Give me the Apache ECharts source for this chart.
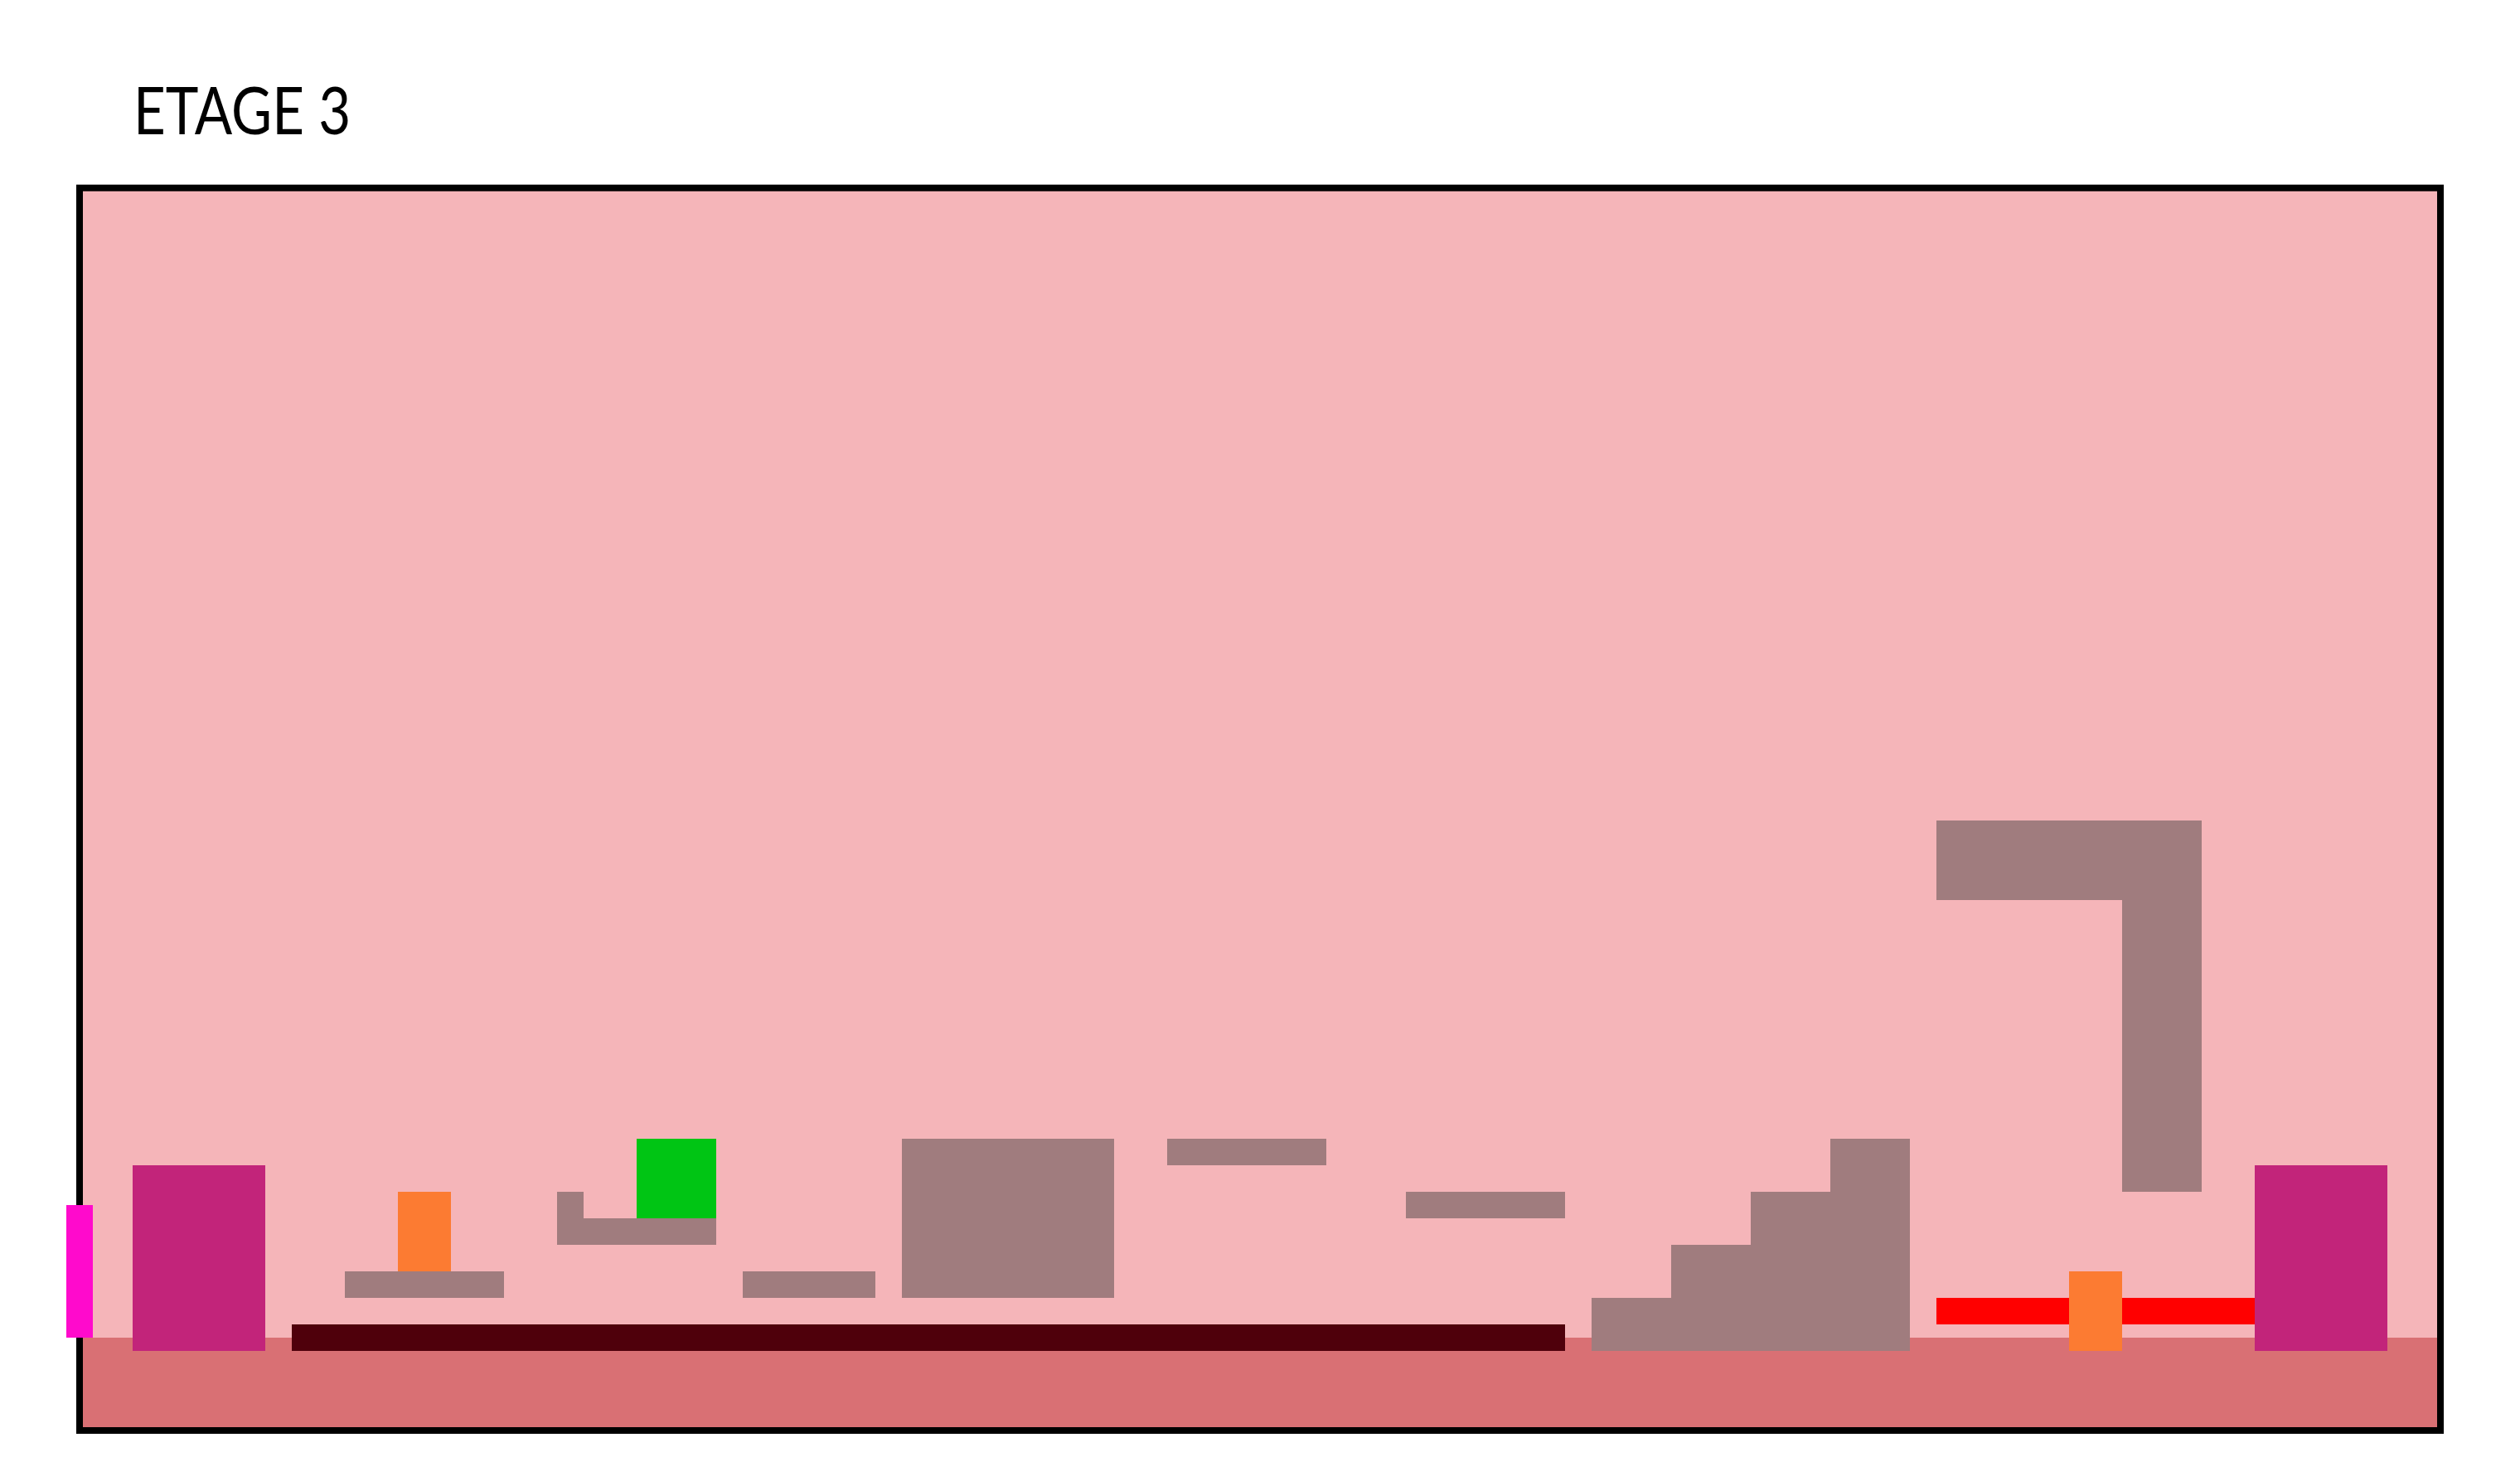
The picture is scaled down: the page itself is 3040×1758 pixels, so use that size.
<!DOCTYPE html>
<html>
<head>
<meta charset="utf-8">
<title>ETAGE 3</title>
<script src="https://cdn.jsdelivr.net/npm/echarts@6/dist/echarts.min.js"></script>
<style>
  html, body { margin: 0; padding: 0; background: #ffffff; }
  #chart { width: 3040px; height: 1758px; }
</style>
</head>
<body>
<div id="chart"></div>
<script>
// level data, in tiles: [x0, y0, x1, y1]
const levelTitle = "ETAGE 3";
const room = [[0, -3, 89, 43.85]];
const ground = [[0, -3, 89, 0.5]];
const walls = [
    [10, 2, 16, 3], [18, 4, 24, 5], [18, 5, 19, 6], [25, 2, 30, 3],
    [31, 2, 39, 8], [41, 7, 47, 8], [50, 5, 56, 6],
    [57, 0, 60, 2], [60, 0, 63, 4], [63, 0, 66, 6], [66, 0, 69, 8],
    [70, 17, 80, 20], [77, 6, 80, 17]
];
const exits = [[2, 0, 7, 7], [82, 0, 87, 7]];
const door = [[-0.5, 0.5, 0.5, 5.5]];
const boxes = [[12, 3, 14, 6], [75, 0, 77, 3]];
const goal = [[21, 5, 24, 8]];
const pit = [[8, 0, 56, 1]];
const laser = [[70, 1, 82, 2]];

/**
 * @description rect renderer for a custom series
 */
function rectItem(fill, stroke, lineWidth) {
    return function (params, api) {
        let p0 = api.coord([api.value(0), api.value(3)]);
        let p1 = api.coord([api.value(2), api.value(1)]);
        return {
            type: "rect",
            shape: { x: p0[0], y: p0[1], width: p1[0] - p0[0], height: p1[1] - p0[1] },
            style: { fill: fill, stroke: stroke || null, lineWidth: lineWidth || 0 }
        };
    };
}

function layer(name, data, fill, stroke, lineWidth) {
    return {
        type: "custom",
        name: name,
        data: data,
        clip: false,
        silent: true,
        renderItem: rectItem(fill, stroke, lineWidth),
        encode: { x: [0, 2], y: [1, 3] }
    };
}

const chart = echarts.init(document.getElementById("chart"));
chart.setOption({
    animation: false,
    backgroundColor: "#ffffff",
    // title as graphic text so it can be squeezed like the narrow original face
    graphic: [{
        type: "text",
        left: 161,
        top: 96,
        scaleX: 0.84,
        silent: true,
        style: {
            text: levelTitle,
            font: "normal 80px Lato, 'Noto Sans', sans-serif",
            fill: "#000000"
        }
    }],
    grid: { left: 96, top: 222, width: 2848, height: 1504 },
    xAxis: { type: "value", min: 0, max: 89, show: false },
    yAxis: { type: "value", min: -3, max: 44, show: false },
    series: [
        layer("room", room, "#f5b5b9"),
        layer("ground", ground, "#d97074"),
        layer("pit", pit, "#4f000b"),
        layer("laser", laser, "#ff0000"),
        layer("walls", walls, "#a07c7e"),
        layer("boxes", boxes, "#fc7b32"),
        layer("goal", goal, "#00c514"),
        layer("exits", exits, "#c2247a"),
        layer("frame", room, "none", "#000000", 8),
        layer("door", door, "#ff0acc")
    ]
});
</script>
</body>
</html>
